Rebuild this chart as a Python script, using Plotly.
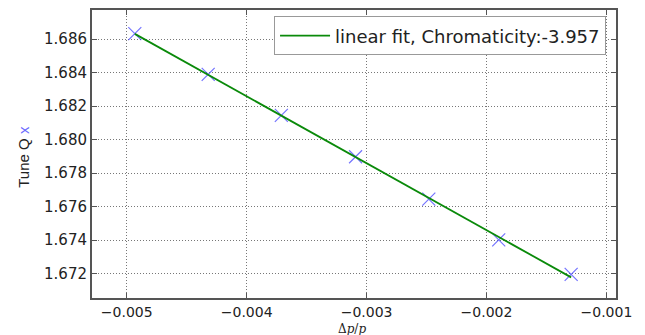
import numpy as np
import plotly.graph_objects as go

dp_p = [-0.004933, -0.004321, -0.003711, -0.003092, -0.002481, -0.001898, -0.001294]
tune_qx = [1.68633, 1.68390, 1.68145, 1.67898, 1.67645, 1.67402, 1.67196]
x_ticks = [-0.005, -0.004, -0.003, -0.002, -0.001]
y_ticks = [1.672, 1.674, 1.676, 1.678, 1.680, 1.682, 1.684, 1.686]
fit_label = "linear fit, Chromaticity:-3.957"

slope, intercept = np.polyfit(dp_p, tune_qx, 1)
fit_x = [dp_p[0], dp_p[-1]]
fit_y = [slope * v + intercept for v in fit_x]

fig = go.Figure()
fig.add_trace(go.Scatter(
    x=dp_p, y=tune_qx, mode="markers", showlegend=False,
    marker=dict(symbol="x-thin", size=13,
                line=dict(width=1.2, color="rgba(70,70,255,0.75)"),
                color="rgba(70,70,255,0.75)")))
fig.add_trace(go.Scatter(
    x=fit_x, y=fit_y, mode="lines", name=fit_label,
    line=dict(color="#0a8a0a", width=1.8)))

axis_common = dict(
    showline=True, linewidth=2, linecolor="#555", mirror="ticks",
    ticks="inside", ticklen=5, tickwidth=1, tickcolor="#555",
    showgrid=True, gridcolor="#777", griddash="1px,2px", gridwidth=1,
    zeroline=False,
)
fig.update_xaxes(range=[-0.00529, -0.00092], tickvals=x_ticks, tickformat=".3f",
                 tickfont=dict(family="DejaVu Sans", size=14, color="#222"), **axis_common)
fig.update_yaxes(range=[1.67055, 1.68774], tickvals=y_ticks, tickformat=".3f",
                 tickfont=dict(family="DejaVu Sans", size=15, color="#222"), **axis_common)

fig.add_annotation(text="Tune Q <span style='color:#6a6aff'>x</span>", xref="paper", yref="paper",
                   x=-0.13, y=0.49, xanchor="center", yanchor="middle", textangle=-90,
                   showarrow=False, font=dict(family="Liberation Sans", size=15, color="#222"))
fig.add_annotation(text="Δ<i>p</i>/<i>p</i>", xref="paper", yref="paper",
                   x=0.496, y=-0.108, xanchor="center", yanchor="middle",
                   showarrow=False, font=dict(family="DejaVu Serif", size=12, color="#222"))

fig.update_layout(
    width=645, height=335,
    margin=dict(l=92, r=29, t=8, b=37),
    plot_bgcolor="white", paper_bgcolor="white",
    legend=dict(x=0.981, y=0.978, xanchor="right", yanchor="top",
                bgcolor="white", bordercolor="#999", borderwidth=1,
                itemwidth=50, tracegroupgap=0,
                font=dict(family="DejaVu Sans", size=18, color="#222")),
)
fig.write_html("out.html")
